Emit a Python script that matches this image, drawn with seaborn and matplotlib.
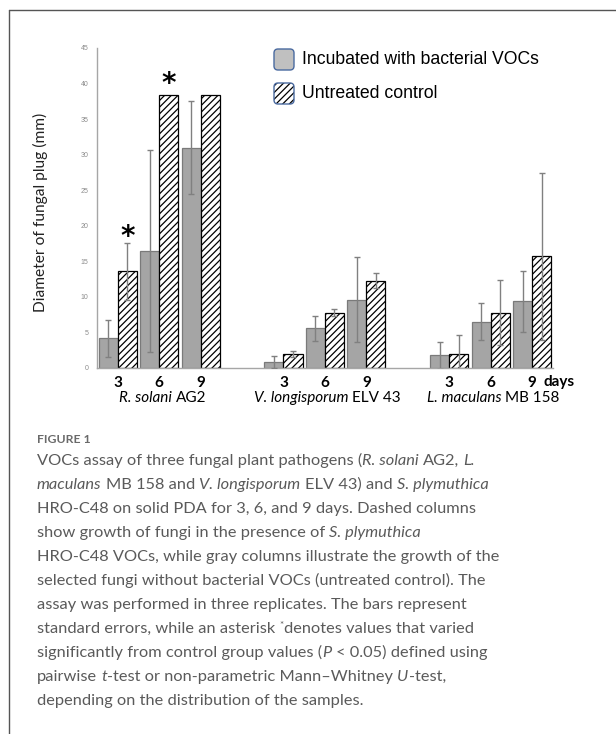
import numpy as np
import pandas as pd
import matplotlib
matplotlib.use("Agg")
import matplotlib.pyplot as plt
from matplotlib.patches import FancyBboxPatch
from matplotlib.lines import Line2D
from matplotlib.transforms import IdentityTransform
import seaborn as sns

# ---------------- data ----------------
groups = ["R. solani AG2", "V. longisporum ELV 43", "L. maculans MB 158"]
days = ["3", "6", "9"]
voc_mean = [4.2, 16.4, 31.0, 0.8, 5.6, 9.6, 1.8, 6.5, 9.4]
voc_err = [2.6, 14.2, 6.5, 0.85, 1.75, 6.0, 1.9, 2.6, 4.3]
ctrl_mean = [13.6, 38.4, 38.4, 2.0, 7.8, 12.3, 2.0, 7.8, 15.7]
ctrl_err = [4.0, 0.0, 0.0, 0.45, 0.5, 1.0, 2.6, 4.6, 11.7]
series = ["Incubated with bacterial VOCs", "Untreated control"]
y_ticks = [0, 5, 10, 15, 20, 25, 30, 35, 40, 45]
star_slots = [0, 1]          # index in bars (untreated control) with asterisk
star_y = [18.4, 39.9]

W, H = 616, 734
sns.set_style("white")
plt.rcParams["hatch.linewidth"] = 0.9

fig = plt.figure(figsize=(W / 100, H / 100), dpi=100)

def fx(x):
    return x / W

def fy(y):
    return 1 - y / H

ax = fig.add_axes([fx(97), fy(368), fx(552.75) - fx(97), fy(48) - fy(368)])

# categories with empty gap slots
slot_names = []
order = []
for gi, g in enumerate(groups):
    for d in days:
        slot_names.append(f"{g}|{d}")
        order.append(f"{g}|{d}")
    if gi < len(groups) - 1:
        order.append(f"_gap{gi}")

df = pd.DataFrame({
    "slot": slot_names * 2,
    "treatment": [series[0]] * 9 + [series[1]] * 9,
    "value": voc_mean + ctrl_mean,
})

sns.barplot(data=df, x="slot", y="value", hue="treatment", order=order,
            hue_order=series, palette=["#a5a5a5", "white"], width=0.92,
            gap=0, errorbar=None, legend=False, ax=ax, saturation=1)

gray_c, hatch_c = ax.containers[0], ax.containers[1]
for p in gray_c:
    p.set_edgecolor("#7a7a7a")
    p.set_linewidth(0.9)
for p in hatch_c:
    p.set_edgecolor("black")
    p.set_linewidth(0.9)
    p.set_hatch("/////")

def centers(cont):
    return np.array([p.get_x() + p.get_width() / 2 for p in cont])

xg = centers(gray_c)
xh = centers(hatch_c)
ecol = "#808080"
ax.errorbar(xg, voc_mean, yerr=voc_err, fmt="none", ecolor=ecol,
            elinewidth=1.0, capsize=2.2, capthick=1.0, zorder=5)
ce = np.array(ctrl_err)
m = ce > 0
ax.errorbar(xh[m], np.array(ctrl_mean)[m], yerr=ce[m], fmt="none", ecolor=ecol,
            elinewidth=1.0, capsize=2.2, capthick=1.0, zorder=5)

for si, sy in zip(star_slots, star_y):
    ax.text(xh[si], sy, "*", ha="center", va="center", fontsize=20,
            fontweight="bold", family="DejaVu Sans", color="black")

ax.set_ylim(0, 45)
ax.set_xlim(-0.5, len(order) - 0.5)
ax.set_yticks(y_ticks)
ax.set_yticklabels([str(t) for t in y_ticks], fontsize=5, color="#8c8c8c",
                   family="Liberation Sans")
ax.tick_params(axis="both", length=0, pad=6)
slot_pos = [order.index(s) for s in slot_names]
ax.set_xticks(slot_pos)
ax.set_xticklabels(days * 3, fontsize=11, fontweight="bold", family="Lato",
                   color="black")
ax.tick_params(axis="x", pad=6)
ax.set_xlabel("")
ax.set_ylabel("Diameter of fungal plug (mm)", fontsize=11.2, family="Lato",
              color="#222222")
ax.yaxis.set_label_coords((48 - 97) / 455.75, (368 - 212) / 320)
for s in ["top", "right"]:
    ax.spines[s].set_visible(False)
for s in ["left", "bottom"]:
    ax.spines[s].set_color("#a6a6a6")
    ax.spines[s].set_linewidth(1.0)
ax.set_facecolor("white")

fig.canvas.draw()
renderer = fig.canvas.get_renderer()

def space_w(**kw):
    a = fig.text(0, 0, "x x", **kw)
    b = fig.text(0, 0, "xx", **kw)
    w = a.get_window_extent(renderer).width - b.get_window_extent(renderer).width
    a.remove(); b.remove()
    return w

def draw_segments(x, y, segs, base, ital, center=False):
    """segs: list of (text, style) where style in {'n','i','s'}; x,y pixel (top-origin y=baseline)."""
    sw = {"n": space_w(**base), "i": space_w(**{**base, **ital})}
    pieces = []
    total = 0
    for txt, st in segs:
        kw = dict(base)
        if st == "i":
            kw.update(ital)
        if st == "s":
            kw["fontsize"] = base["fontsize"] * 0.6
        lead = len(txt) - len(txt.lstrip(" "))
        trail = len(txt) - len(txt.rstrip(" "))
        core = txt.strip(" ")
        spw = sw["i" if st == "i" else "n"]
        t = fig.text(0, 0, core, **kw)
        w = t.get_window_extent(renderer).width if core else 0
        t.remove()
        pieces.append((lead * spw, core, kw, w, trail * spw, st))
        total += lead * spw + w + trail * spw
    cx = x - total / 2 if center else x
    for lead, core, kw, w, trail, st in pieces:
        cx += lead
        yy = y - (5 if st == "s" else 0)
        if core:
            fig.text(fx(cx), fy(yy), core, ha="left", va="baseline", **kw)
        cx += w + trail

# "days"
fig.text(fx(543), fy(386), "days", ha="left", va="baseline", fontsize=11,
         fontweight="bold", family="Lato", color="black")

# group labels
gbase = dict(fontsize=11, family="Lato", color="black")
gital = dict(style="italic")
glabels = [[("R. solani", "i"), (" AG2", "n")],
           [("V. longisporum", "i"), (" ELV 43", "n")],
           [("L. maculans", "i"), (" MB 158", "n")]]
gcent = [163, 327, 493]
for segs, cxp in zip(glabels, gcent):
    draw_segments(cxp, 402, segs, gbase, gital, center=True)

# legend
tr = IdentityTransform()
leg_items = [(49, False), (83, True)]
for (ytop, hatched), lab in zip(leg_items, series):
    x0, w, h = 274, 20, 21
    yb = H - ytop - h
    if hatched:
        fig.patches.append(FancyBboxPatch((x0, yb), w, h,
                           boxstyle="round,pad=0,rounding_size=4",
                           facecolor="white", edgecolor="black", linewidth=0,
                           hatch="/////", transform=tr, figure=fig))
        fig.patches.append(FancyBboxPatch((x0, yb), w, h,
                           boxstyle="round,pad=0,rounding_size=4",
                           facecolor="none", edgecolor="#4a6aa0", linewidth=1.0,
                           transform=tr, figure=fig))
    else:
        fig.patches.append(FancyBboxPatch((x0, yb), w, h,
                           boxstyle="round,pad=0,rounding_size=4",
                           facecolor="#c0c0c0", edgecolor="#4a6aa0", linewidth=1.0,
                           transform=tr, figure=fig))
    fig.text(fx(302), fy(ytop + h / 2), lab, ha="left", va="center",
             fontsize=12.7, family="Liberation Sans", color="black")

# card border
fig.add_artist(Line2D([fx(9), 1.0], [fy(10), fy(10)], color="#555555", lw=1.0))
fig.add_artist(Line2D([fx(9), fx(9)], [fy(10), 0.0], color="#555555", lw=1.0))

# caption
fig.text(fx(37), fy(443), "FIGURE 1", ha="left", va="baseline", fontsize=8.8,
         family="Lato", fontweight="bold", color="#6a6a6a")
cbase = dict(fontsize=11.8, family="Lato", color="#5a5a5a")
cital = dict(style="italic")
cap_lines = [
    [("VOCs assay of three fungal plant pathogens (", "n"), ("R. solani", "i"), (" AG2, ", "n"), ("L.", "i")],
    [("maculans", "i"), (" MB 158 and ", "n"), ("V. longisporum", "i"), (" ELV 43) and ", "n"), ("S. plymuthica", "i")],
    [("HRO-C48 on solid PDA for 3, 6, and 9 days. Dashed columns", "n")],
    [("show growth of fungi in the presence of ", "n"), ("S. plymuthica", "i")],
    [("HRO-C48 VOCs, while gray columns illustrate the growth of the", "n")],
    [("selected fungi without bacterial VOCs (untreated control). The", "n")],
    [("assay was performed in three replicates. The bars represent", "n")],
    [("standard errors, while an asterisk ", "n"), ("*", "s"), ("denotes values that varied", "n")],
    [("significantly from control group values (", "n"), ("P", "i"), (" < 0.05) defined using", "n")],
    [("pairwise ", "n"), ("t", "i"), ("-test or non-parametric Mann\u2013Whitney ", "n"), ("U", "i"), ("-test,", "n")],
    [("depending on the distribution of the samples.", "n")],
]
for i, segs in enumerate(cap_lines):
    draw_segments(37, 465 + 24 * i, segs, cbase, cital)

fig.savefig("out.png", dpi=100, facecolor="white")
